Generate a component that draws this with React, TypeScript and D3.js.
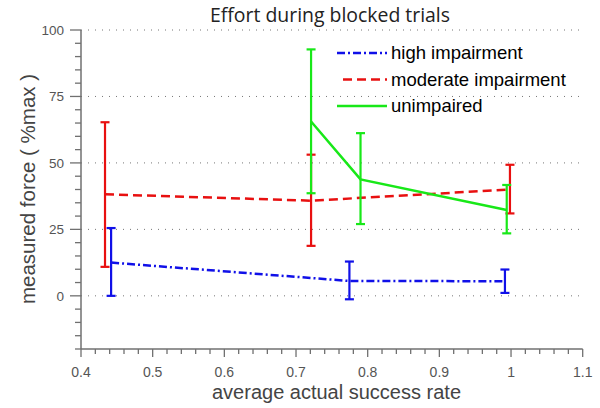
import React from "react";
import * as d3 from "d3";

const title = "Effort during blocked trials";
const xLabel = "average actual success rate";
const yLabel = "measured force ( %max )";
const xTicks = [0.4, 0.5, 0.6, 0.7, 0.8, 0.9, 1, 1.1];
const xTickLabels = ["0.4", "0.5", "0.6", "0.7", "0.8", "0.9", "1", "1.1"];
const yTicks = [0, 25, 50, 75, 100];
const yTickLabels = ["0", "25", "50", "75", "100"];

const seriesNames = ["high impairment", "moderate impairment", "unimpaired"];
const seriesColors = ["#1010e8", "#e81010", "#18e818"];
const seriesDash = ["8 3 2 3", "9 5", ""];

const highX = [0.442, 0.7745, 0.9915];
const highY = [12.5, 5.6, 5.5];
const highLo = [0, -1.3, 1.1];
const highHi = [25.5, 12.9, 9.9];

const modX = [0.4335, 0.721, 0.9985];
const modY = [38.2, 35.8, 40];
const modLo = [10.9, 18.8, 31];
const modHi = [65.3, 53.1, 49.3];

const unX = [0.721, 0.79, 0.994];
const unY = [65.6, 43.8, 32.3];
const unLo = [38.6, 27, 23.5];
const unHi = [92.7, 61.2, 41.7];

const allSeries = [
  { x: highX, y: highY, lo: highLo, hi: highHi },
  { x: modX, y: modY, lo: modLo, hi: modHi },
  { x: unX, y: unY, lo: unLo, hi: unHi },
];

export default function App() {
  const W = 600, H = 408;
  const x = d3.scaleLinear().domain([0.4, 1.1]).range([81, 582.7]);
  const y = d3.scaleLinear().domain([-20, 100]).range([349, 30]);
  const line = d3.line<[number, number]>().x((d) => x(d[0])).y((d) => y(d[1]));
  const minorX = d3.range(0.4, 1.1001, 0.02);
  const minorY = d3.range(-20, 100.001, 5);
  const axisColor = "#707070";
  const textColor = "#555";
  const font = "'Liberation Sans', Arial, sans-serif";

  return (
    <svg width={W} height={H} style={{ position: "absolute", left: 0, top: 0, background: "#fff" }}>
      <rect width={W} height={H} fill="#fff" />
      {yTicks.map((t) => (
        <line key={"g" + t} x1={x(0.4)} x2={x(1.1)} y1={y(t)} y2={y(t)} stroke="#777" strokeWidth={1} strokeDasharray="1 6" />
      ))}
      <line x1={x(0.4)} x2={x(0.4)} y1={y(100)} y2={y(-20)} stroke={axisColor} strokeWidth={1.5} />
      <line x1={x(0.4)} x2={x(1.1)} y1={y(-20)} y2={y(-20)} stroke={axisColor} strokeWidth={1.5} />
      {minorY.map((t) => {
        const major = Math.abs(t % 25) < 1e-6;
        return <line key={"yt" + t} x1={x(0.4) - (major ? 11 : 6)} x2={x(0.4)} y1={y(t)} y2={y(t)} stroke={axisColor} strokeWidth={1.3} />;
      })}
      {minorX.map((t, i) => {
        const major = i % 5 === 0;
        return <line key={"xt" + i} x1={x(t)} x2={x(t)} y1={y(-20)} y2={y(-20) + (major ? 8 : 5)} stroke={axisColor} strokeWidth={1.3} />;
      })}
      {yTicks.map((t, i) => (
        <text key={"yl" + t} x={64} y={y(t) + 5} textAnchor="end" fontFamily={font} fontSize={13.5} fill={textColor}>
          {yTickLabels[i]}
        </text>
      ))}
      {xTicks.map((t, i) => (
        <text key={"xl" + t} x={x(t)} y={377} textAnchor="middle" fontFamily={font} fontSize={14} fill={textColor}>
          {xTickLabels[i]}
        </text>
      ))}
      <text x={336.5} y={399} textAnchor="middle" fontFamily={font} fontSize={20} fill="#444">
        {xLabel}
      </text>
      <text transform={`translate(35,189) rotate(-90)`} textAnchor="middle" fontFamily={font} fontSize={20.5} fill="#444">
        {yLabel}
      </text>
      <text x={330} y={21.5} textAnchor="middle" fontFamily="'Open Sans', 'Noto Sans', sans-serif" fontSize={20.5} fill="#222" textLength={240} lengthAdjust="spacingAndGlyphs">
        {title}
      </text>
      {allSeries.map((s, si) => {
        const pts: [number, number][] = s.x.map((v, i) => [v, s.y[i]]);
        const col = seriesColors[si];
        return (
          <g key={"s" + si}>
            <path d={line(pts) || ""} fill="none" stroke={col} strokeWidth={2.5} strokeDasharray={seriesDash[si] || undefined} />
            {s.x.map((v, i) => (
              <g key={"e" + i}>
                <line x1={x(v)} x2={x(v)} y1={y(s.lo[i])} y2={y(s.hi[i])} stroke={col} strokeWidth={2.2} />
                <line x1={x(v) - 4.5} x2={x(v) + 4.5} y1={y(s.lo[i])} y2={y(s.lo[i])} stroke={col} strokeWidth={2.2} />
                <line x1={x(v) - 4.5} x2={x(v) + 4.5} y1={y(s.hi[i])} y2={y(s.hi[i])} stroke={col} strokeWidth={2.2} />
              </g>
            ))}
          </g>
        );
      })}
      {seriesNames.map((n, i) => (
        <g key={"lg" + i}>
          <line x1={i === 1 ? 343 : 337} x2={387} y1={53 + i * 26.5} y2={53 + i * 26.5} stroke={seriesColors[i]} strokeWidth={2.4} strokeDasharray={seriesDash[i] || undefined} />
          <text x={391} y={53 + i * 26.5 + 6} fontFamily={font} fontSize={18.5} fill="#000">
            {n}
          </text>
        </g>
      ))}
    </svg>
  );
}
